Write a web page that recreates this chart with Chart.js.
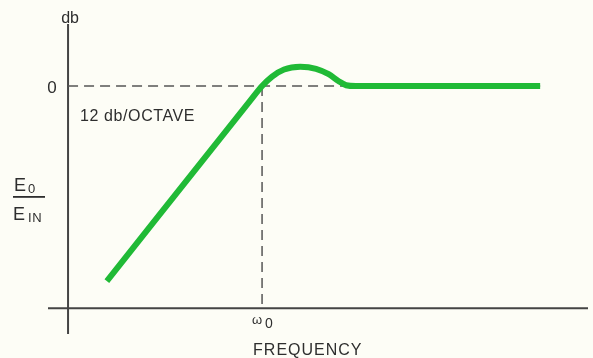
<!DOCTYPE html>
<html>
<head>
<meta charset="utf-8">
<style>
  html, body { margin: 0; padding: 0; background: #fdfdf6; }
  #wrap { width: 593px; height: 358px; position: relative; }
</style>
<script src="https://cdn.jsdelivr.net/npm/chart.js@4/dist/chart.umd.min.js"></script>
</head>
<body>
<div id="wrap"><canvas id="c" width="593" height="358"></canvas></div>
<script>
// Frequency in octaves relative to the corner frequency ω0, gain in dB.
const octaves = [-2.40, -0.186, 0, 0.155, 0.34, 0.59, 0.835, 1.03, 1.18, 1.30, 1.45, 4.30];
const gainDb  = [-28.8, -2.2, 0, 1.40, 2.45, 2.85, 2.55, 1.75, 0.75, 0.12, 0, 0];

const cornerOctave = 0;     // ω0
const refLevelDb = 0;       // 0 dB reference
const yAxisAt = -3.0;       // where the vertical axis stands
const xAxisAt = -32.8;      // where the horizontal axis lies

const points = octaves.map((x, i) => ({ x, y: gainDb[i] }));

const ink = '#2e2e2e';
const font = '"Liberation Sans", Arial, sans-serif';

const decorations = {
  id: 'decorations',
  beforeDatasetsDraw(chart) {
    const { ctx, scales: { x, y } } = chart;
    ctx.save();
    // axes
    ctx.strokeStyle = '#444';
    ctx.lineWidth = 2;
    ctx.beginPath();
    ctx.moveTo(x.getPixelForValue(yAxisAt), y.top);
    ctx.lineTo(x.getPixelForValue(yAxisAt), y.bottom);
    ctx.moveTo(x.left, y.getPixelForValue(xAxisAt));
    ctx.lineTo(x.right, y.getPixelForValue(xAxisAt));
    ctx.stroke();

    // dashed reference lines
    ctx.strokeStyle = '#555';
    ctx.lineWidth = 1.5;
    ctx.setLineDash([10, 6]);
    ctx.beginPath();
    const y0 = y.getPixelForValue(refLevelDb);
    const xw = x.getPixelForValue(cornerOctave);
    ctx.moveTo(x.getPixelForValue(yAxisAt), y0);
    ctx.lineTo(x.getPixelForValue(octaves[octaves.length - 1]), y0);
    ctx.moveTo(xw, y0);
    ctx.lineTo(xw, y.getPixelForValue(xAxisAt));
    ctx.stroke();
    ctx.setLineDash([]);

    // labels
    ctx.fillStyle = ink;
    ctx.textBaseline = 'alphabetic';
    ctx.textAlign = 'center';
    const xa = x.getPixelForValue(yAxisAt);
    ctx.font = '16px ' + font;
    ctx.fillText('db', xa + 2, 23);
    ctx.font = '17px ' + font;
    ctx.fillText('0', xa - 16, y0 + 7);

    ctx.textAlign = 'left';
    ctx.font = '16px ' + font;
    ctx.letterSpacing = '0.6px';
    ctx.fillText('12 db/OCTAVE', 80, 121);

    // E0 / EIN
    ctx.font = '18px ' + font;
    ctx.fillText('E', 14, 191);
    ctx.fillText('E', 13, 220);
    ctx.font = '13px ' + font;
    ctx.fillText('0', 28, 193);
    ctx.fillText('IN', 28, 222);
    ctx.fillRect(13, 196, 32, 1.8);

    // ω0 and FREQUENCY
    const xb = y.getPixelForValue(xAxisAt);
    ctx.font = '13px ' + font;
    ctx.fillText('ω', xw - 10, xb + 16);
    ctx.font = '14px ' + font;
    ctx.fillText('0', xw + 3, xb + 20);
    ctx.font = '16px ' + font;
    ctx.letterSpacing = '1px';
    ctx.fillText('FREQUENCY', xw - 9, 355);
    ctx.restore();
  }
};

new Chart(document.getElementById('c'), {
  type: 'line',
  data: {
    datasets: [{
      data: points,
      borderColor: 'rgb(32,186,54)',
      borderWidth: 6,
      borderCapStyle: 'butt',
      pointRadius: 0,
      cubicInterpolationMode: 'monotone',
      fill: false
    }]
  },
  options: {
    responsive: false,
    animation: false,
    layout: { padding: { left: 48, right: 5, top: 24, bottom: 24 } },
    plugins: { legend: { display: false }, tooltip: { enabled: false } },
    scales: {
      x: { type: 'linear', display: false, min: -3.31, max: 5.04 },
      y: { type: 'linear', display: false, min: -36.6, max: 9.16 }
    }
  },
  plugins: [decorations]
});
</script>
</body>
</html>
